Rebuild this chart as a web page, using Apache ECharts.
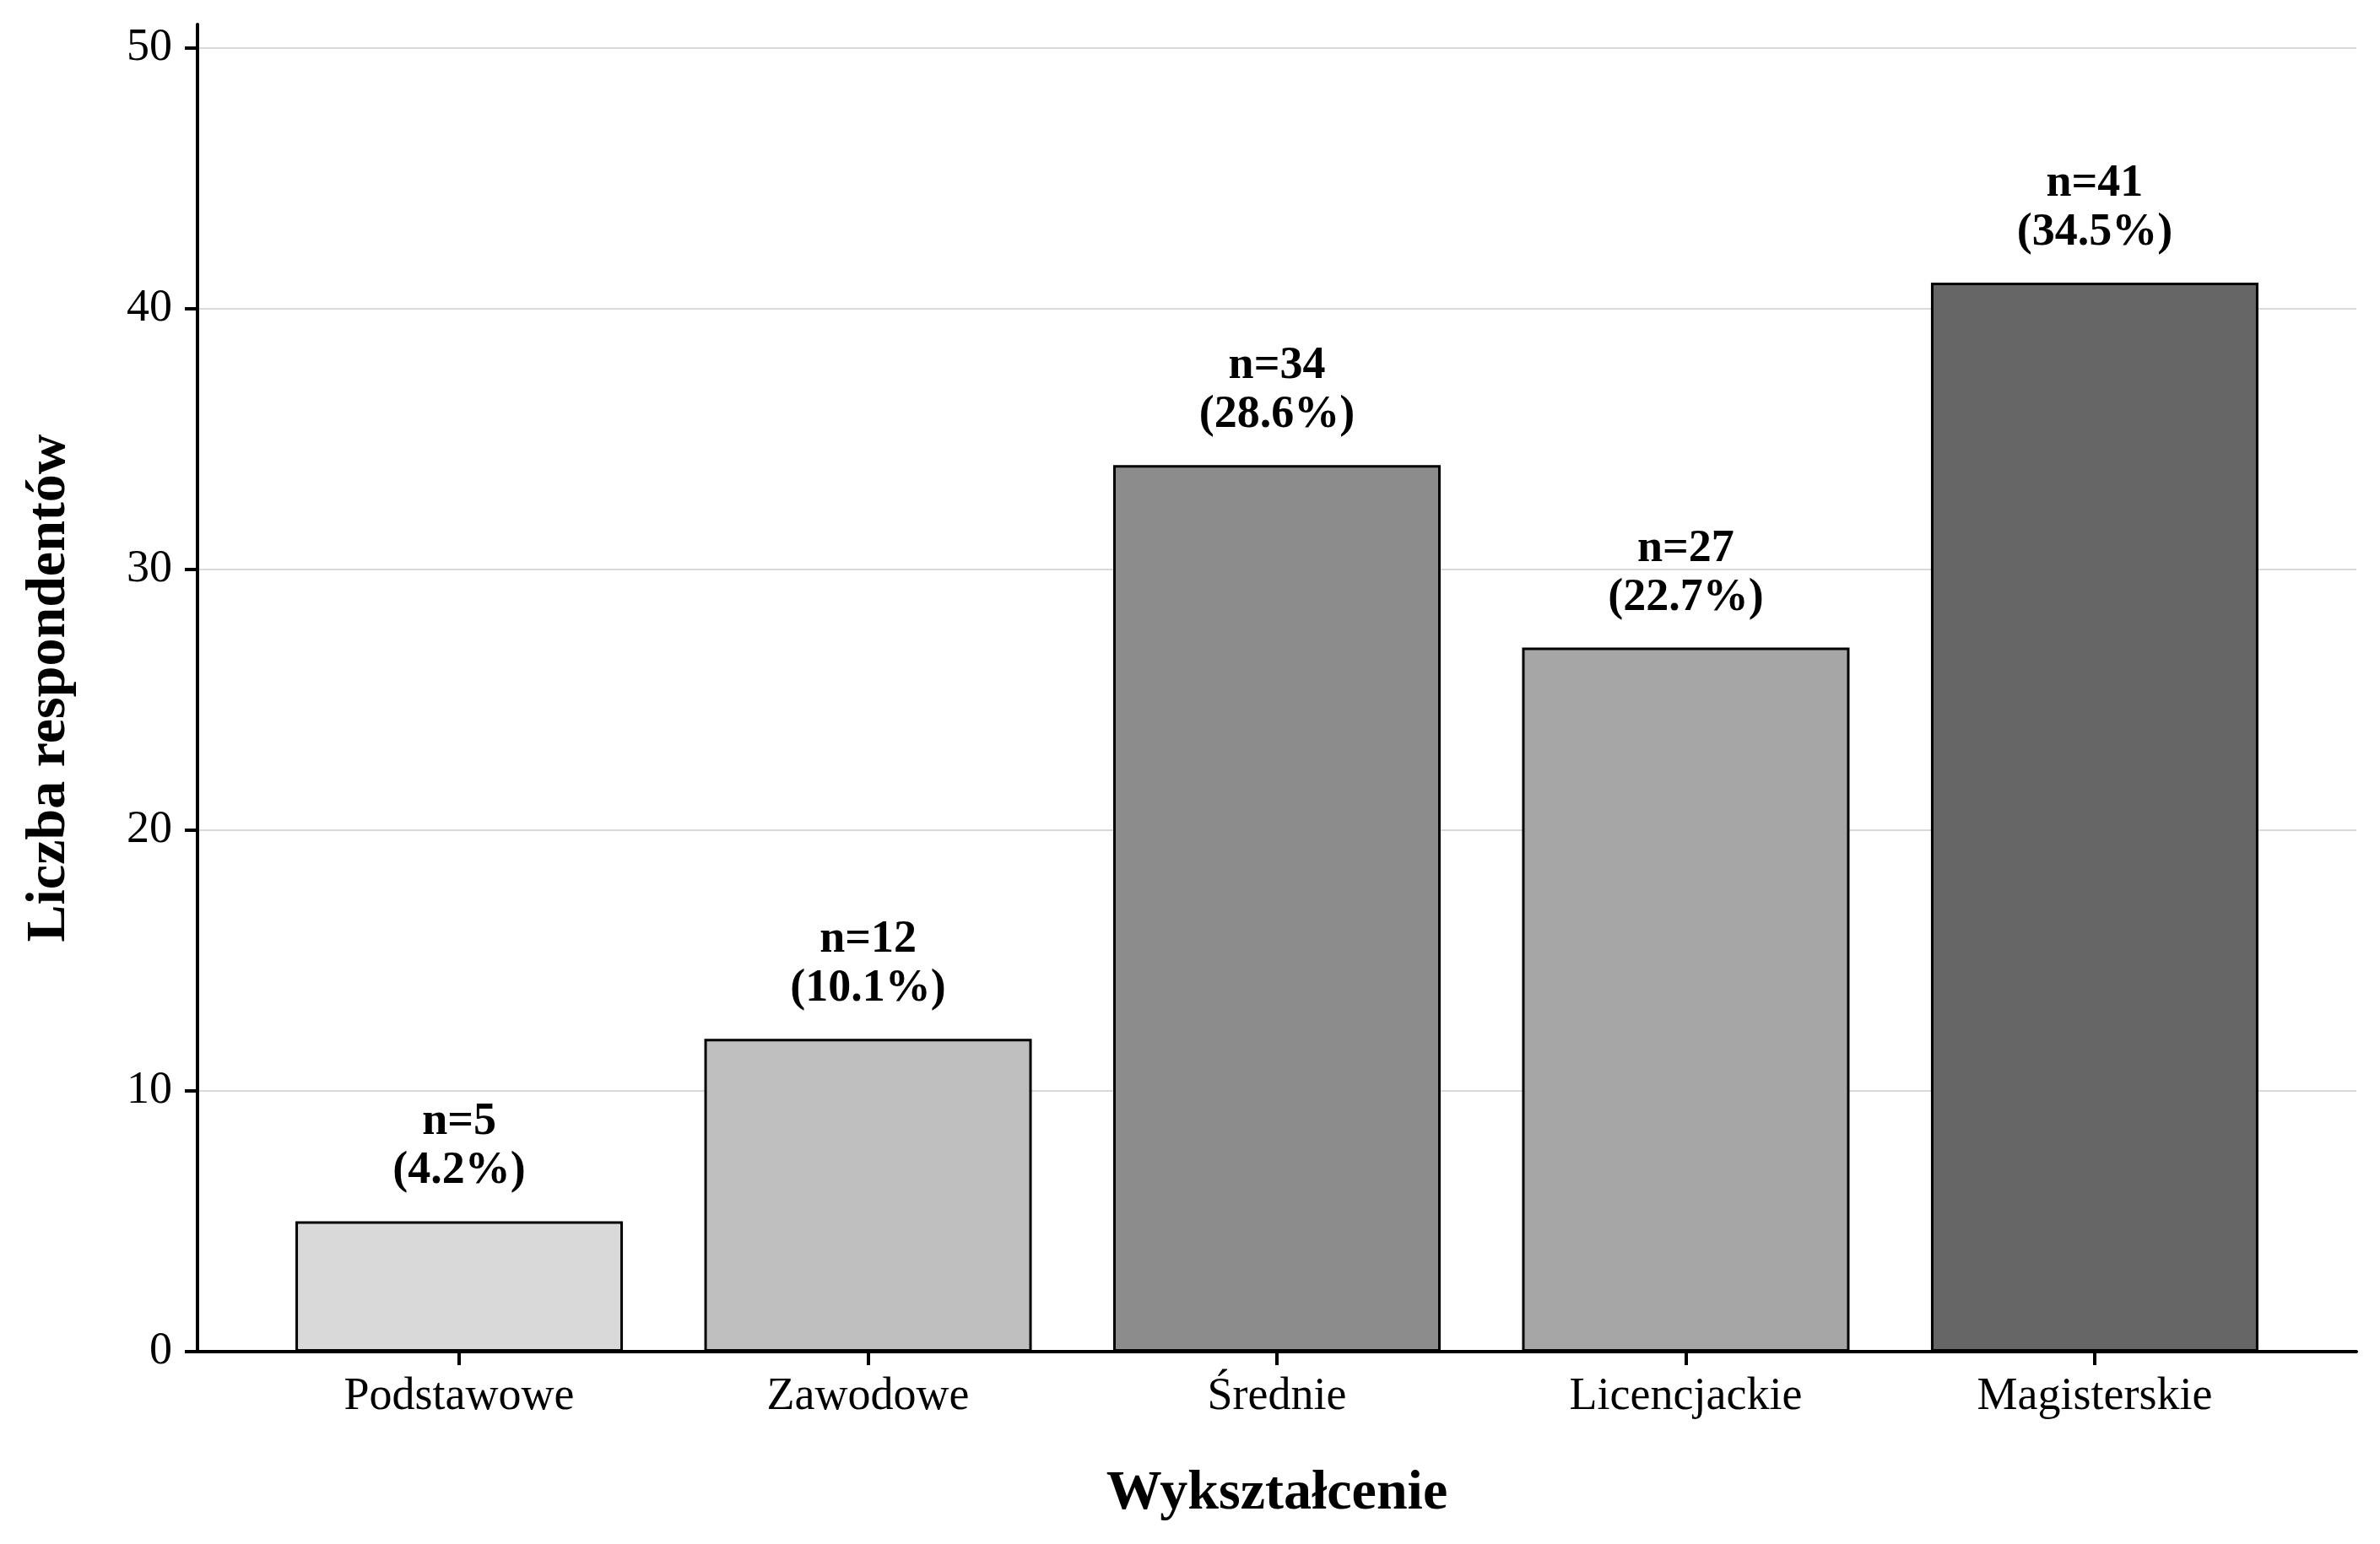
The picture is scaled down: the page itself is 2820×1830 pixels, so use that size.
<!DOCTYPE html>
<html lang="pl">
<head>
    <meta charset="UTF-8">
    <title>Wykształcenie</title>
    <script src="https://cdn.jsdelivr.net/npm/echarts@6/dist/echarts.min.js"></script>
    <style>
        html, body { margin: 0; padding: 0; background: #fff; }
    </style>
</head>
<body>
    <div id="myChart" style="width: 2820px;height: 1830px;"></div>
    <script>
        // dane z wykresu
        var categories = ['Podstawowe', 'Zawodowe', 'Średnie', 'Licencjackie', 'Magisterskie'];
        var counts = [5, 12, 34, 27, 41];
        var percents = ['4.2', '10.1', '28.6', '22.7', '34.5'];
        var barColors = ['#d9d9d9', '#bfbfbf', '#8c8c8c', '#a6a6a6', '#666666'];
        var yTicks = [0, 10, 20, 30, 40, 50];
        var xPositions = categories.map(function (c, i) { return i + 1; });

        var font = "'Liberation Serif', 'DejaVu Serif', serif";

        var myChart = echarts.init(document.getElementById('myChart'));
        var option = {
            animation: false,
            backgroundColor: '#ffffff',
            textStyle: { fontFamily: font },
            grid: { left: 234, right: 28, top: 29, bottom: 228, containLabel: false },
            xAxis: {
                type: 'value',
                min: 0.36,
                max: 5.64,
                name: 'Wykształcenie',
                nameLocation: 'middle',
                nameGap: 136,
                nameTextStyle: { fontFamily: font, fontSize: 66, fontWeight: 'bold', color: '#000' },
                axisLine: { show: true, lineStyle: { color: '#000', width: 4 } },
                axisTick: { show: true, length: 16, lineStyle: { color: '#000', width: 4 }, customValues: xPositions },
                axisLabel: {
                    customValues: xPositions,
                    margin: 27,
                    fontFamily: font, fontSize: 54, color: '#000',
                    formatter: function (v) { return categories[Math.round(v) - 1] || ''; }
                },
                splitLine: { show: false }
            },
            yAxis: {
                type: 'value',
                min: 0,
                max: 50.9,
                name: 'Liczba respondentów',
                nameLocation: 'middle',
                nameGap: 142,
                nameRotate: 90,
                nameTextStyle: { fontFamily: font, fontSize: 66, fontWeight: 'bold', color: '#000' },
                axisLine: { show: true, lineStyle: { color: '#000', width: 4 } },
                axisTick: { show: true, length: 15, lineStyle: { color: '#000', width: 4 }, customValues: yTicks },
                axisLabel: { customValues: yTicks, margin: 30, fontFamily: font, fontSize: 54, color: '#000' },
                splitLine: { show: true, lineStyle: { color: '#d9d9d9', width: 2 } }
            },
            series: [{
                type: 'bar',
                barWidth: 388,
                data: counts.map(function (v, i) {
                    return {
                        value: [xPositions[i], v],
                        itemStyle: { color: barColors[i], borderColor: '#000', borderWidth: 3 }
                    };
                }),
                label: {
                    show: true,
                    position: 'top',
                    distance: 30,
                    fontFamily: font,
                    fontSize: 54,
                    fontWeight: 'bold',
                    color: '#000',
                    lineHeight: 58,
                    align: 'center',
                    formatter: function (p) {
                        return 'n=' + counts[p.dataIndex] + '\n(' + percents[p.dataIndex] + '%)';
                    }
                }
            }]
        };

        myChart.setOption(option);
    </script>
</body>
</html>
